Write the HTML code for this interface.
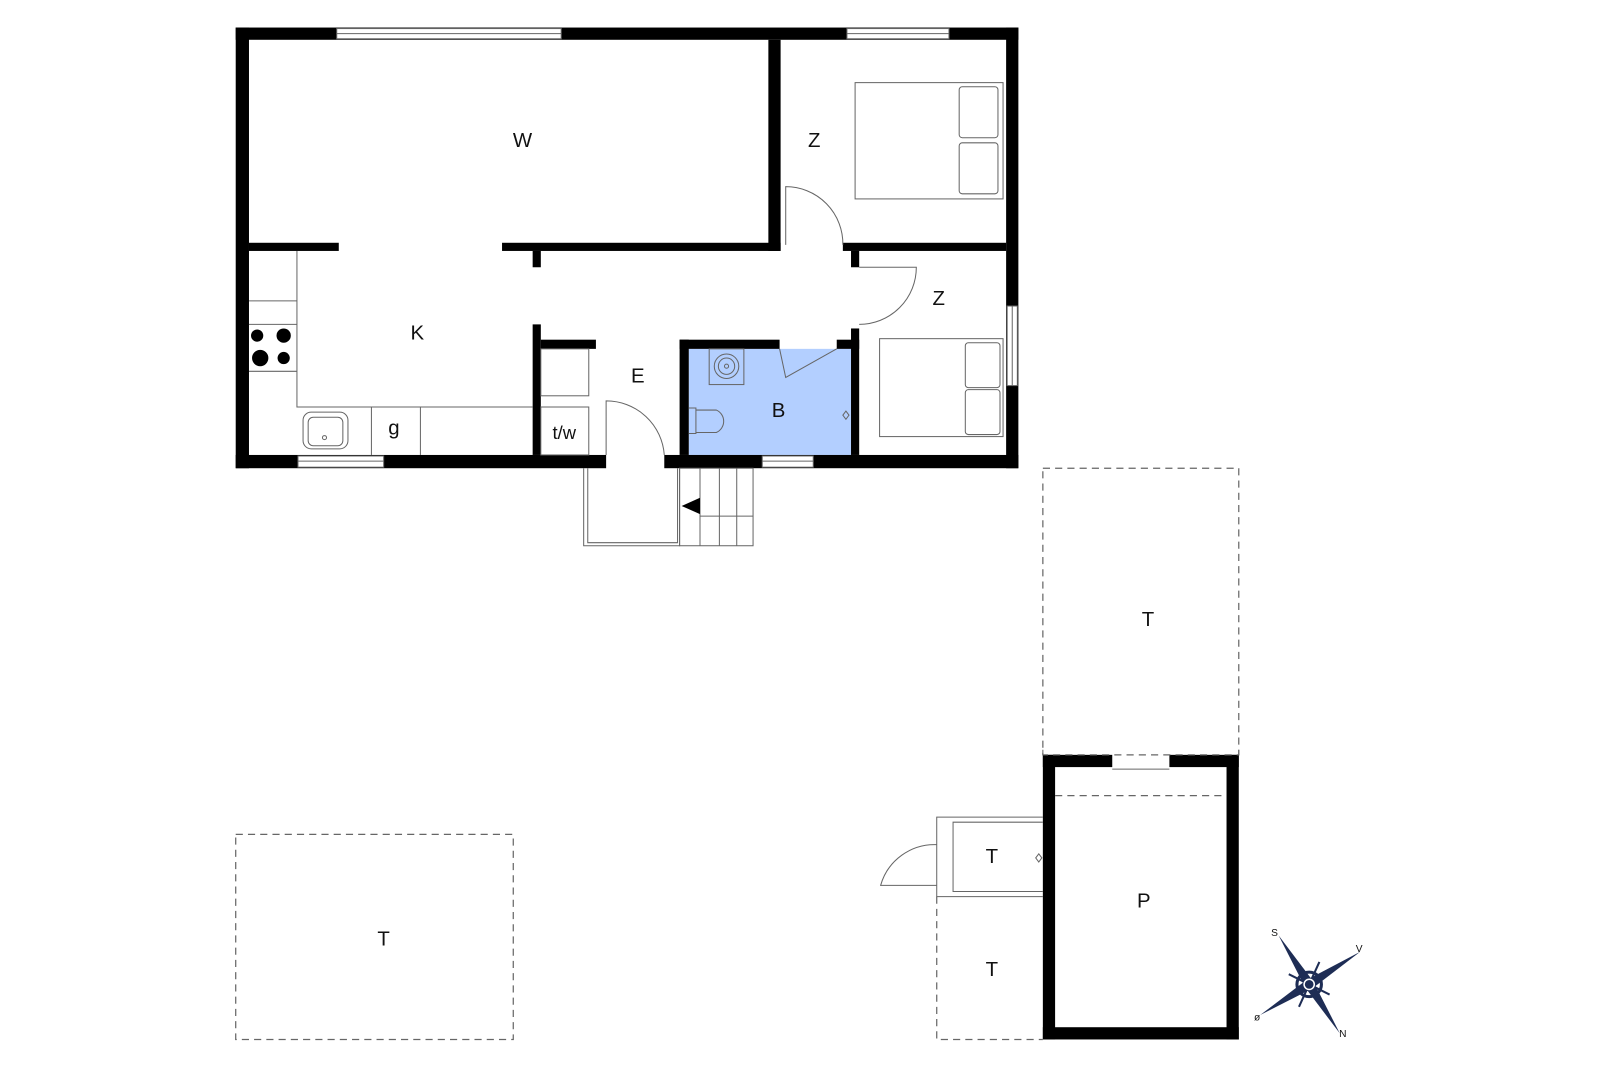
<!DOCTYPE html>
<html><head><style>html,body{margin:0;padding:0;background:#fff}svg{display:block}
text{font-family:"Liberation Sans",sans-serif;font-size:20px;fill:#111;text-anchor:middle;dominant-baseline:central}</style></head>
<body>
<svg width="1600" height="1067" viewBox="0 0 1568 1046" preserveAspectRatio="none" xmlns="http://www.w3.org/2000/svg">
<rect width="1568" height="1046" fill="#fff"/>
<!-- bath fill -->
<rect x="675" y="342" width="159" height="104" fill="#b3cfff"/>
<g fill="#000">
<!-- outer walls -->
<rect x="231" y="27" width="767" height="12"/>
<rect x="231" y="27" width="13" height="432"/>
<rect x="986" y="27" width="12" height="432"/>
<rect x="231" y="446" width="363" height="13"/>
<rect x="651" y="446" width="347" height="13"/>
<!-- interior -->
<rect x="244" y="238" width="88" height="8"/>
<rect x="492" y="238" width="273" height="8"/>
<rect x="753" y="39" width="12" height="207"/>
<rect x="826" y="238" width="160" height="8"/>
<rect x="522" y="246" width="8" height="16"/>
<rect x="834" y="246" width="8" height="16"/>
<rect x="834" y="322" width="8" height="124"/>
<rect x="522" y="318" width="8" height="128"/>
<rect x="530" y="333" width="54" height="9"/>
<rect x="666" y="333" width="9" height="113"/>
<rect x="666" y="333" width="98" height="9"/>
<rect x="820" y="333" width="22" height="9"/>
<!-- P building -->
<rect x="1022" y="740" width="68" height="12"/>
<rect x="1146" y="740" width="68" height="12"/>
<rect x="1022" y="740" width="12" height="279"/>
<rect x="1202" y="740" width="12" height="279"/>
<rect x="1022" y="1007" width="192" height="12"/>
</g>
<g fill="#fff" stroke="#666" stroke-width="1">
<!-- windows -->
<rect x="330" y="28" width="220" height="10"/>
<rect x="830" y="28" width="100" height="10"/>
<rect x="987" y="300" width="10" height="78"/>
<rect x="292" y="447" width="84" height="11"/>
<rect x="747" y="447" width="50" height="11"/>
</g>
<g stroke="#666" stroke-width="1" fill="none">
<line x1="330" y1="33" x2="550" y2="33"/><line x1="830" y1="33" x2="930" y2="33"/>
<line x1="992" y1="300" x2="992" y2="378"/><line x1="292" y1="452" x2="376" y2="452"/><line x1="747" y1="452" x2="797" y2="452"/>
<!-- kitchen -->
<polyline points="291,246 291,399 522,399"/>
<line x1="244" y1="295" x2="291" y2="295"/><line x1="244" y1="318" x2="291" y2="318"/><line x1="244" y1="364" x2="291" y2="364"/>
<line x1="364" y1="399" x2="364" y2="446"/><line x1="412" y1="399" x2="412" y2="446"/>
<rect x="297" y="404" width="44" height="36" rx="8"/><rect x="302" y="409" width="34" height="28" rx="5"/>
<circle cx="318" cy="429" r="2"/>
<rect x="530" y="342" width="47" height="46"/><rect x="530" y="399" width="47" height="47"/>
<!-- doors -->
<path d="M594 446 V393 A57 57 0 0 1 651 446"/>
<path d="M770 240 V183 A56 56 0 0 1 826 240"/>
<path d="M842 262 H898 A56 56 0 0 1 842 318"/>
<path d="M764 342 L770 370 L820 342"/>
<!-- stairs -->
<polyline points="666,459 666,535 572,535 572,459"/><polyline points="664,459 664,532 576,532 576,459"/>
<rect x="666" y="459" width="72" height="76"/>
<line x1="686" y1="459" x2="686" y2="535"/><line x1="705" y1="459" x2="705" y2="535"/><line x1="722" y1="459" x2="722" y2="535"/>
<line x1="686" y1="506" x2="738" y2="506"/>
<!-- bath fixtures -->
<rect x="695" y="342" width="34" height="35"/><circle cx="712" cy="359" r="12"/><circle cx="712" cy="359" r="8"/><circle cx="712" cy="359" r="2"/>
<path d="M675 400 H682 V425 H675 M682 402 H702 A12 12 0 0 1 702 424 H682"/>
<path d="M829 403 l3 4 -3 4 -3 -4z"/>
<!-- beds -->
<rect x="838" y="81" width="145" height="114"/><rect x="940" y="85" width="38" height="50" rx="3"/><rect x="940" y="140" width="38" height="50" rx="3"/>
<rect x="862" y="332" width="121" height="96"/><rect x="946" y="336" width="34" height="44" rx="3"/><rect x="946" y="382" width="34" height="44" rx="3"/>
<!-- small T porch -->
<polyline points="1022,801 918,801 918,879 1022,879"/><polyline points="1022,806 934,806 934,874 1022,874"/>
<path d="M918 828 A55 55 0 0 0 863 868 H918"/>
<path d="M1018 837 l3 4 -3 4 -3 -4z"/>
<line x1="1090" y1="754" x2="1146" y2="754"/>
<line x1="1022" y1="740" x2="1022" y2="735"/><line x1="1214" y1="740" x2="1214" y2="735"/>
</g>
<polygon points="668,496 686,488 686,504" fill="#000"/>
<circle cx="252" cy="329" r="6"/><circle cx="278" cy="329" r="7"/><circle cx="255" cy="351" r="8"/><circle cx="278" cy="351" r="6"/>
<g stroke="#666" stroke-width="1.2" fill="none" stroke-dasharray="7,5">
<rect x="1022" y="459" width="192" height="281"/>
<rect x="231" y="818" width="272" height="201"/>
<polyline points="918,879 918,1019 1022,1019"/>
<line x1="1034" y1="780" x2="1202" y2="780"/>
</g>
<!-- compass -->
<g transform="translate(1283,965)">
<circle r="12" fill="none" stroke="#1e2d55" stroke-width="3"/>
<polygon points="-30,-48 4,-3 -4,3" fill="#1e2d55"/><polygon points="30,48 4,-3 -4,3" fill="#1e2d55"/>
<polygon points="50,-32 3,4 -3,-4" fill="#1e2d55"/><polygon points="-48,30 3,4 -3,-4" fill="#1e2d55"/>
<line x1="-20" y1="-10" x2="20" y2="10" stroke="#1e2d55" stroke-width="2"/><line x1="10" y1="-22" x2="-10" y2="22" stroke="#1e2d55" stroke-width="2"/>
<circle r="5" fill="#1e2d55" stroke="#fff" stroke-width="1.5"/>
</g>
<g style="font-size:9px"><text x="1249" y="915" style="font-size:10px">S</text><text x="1332" y="931" style="font-size:10px">V</text><text x="1316" y="1014" style="font-size:10px">N</text><text x="1232" y="998" style="font-size:10px">ø</text></g>
<text x="512" y="138">W</text><text x="798" y="138">Z</text><text x="920" y="293">Z</text>
<text x="409" y="327">K</text><text x="625" y="369">E</text><text x="763" y="403">B</text>
<text x="386" y="420">g</text><text x="553" y="424" style="font-size:18px">t/w</text>
<text x="1125" y="608">T</text><text x="376" y="921">T</text><text x="972" y="840">T</text>
<text x="1121" y="884">P</text><text x="972" y="951">T</text>
</svg>
</body></html>
